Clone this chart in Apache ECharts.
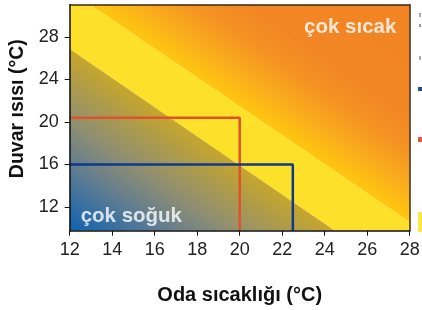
<!DOCTYPE html>
<html>
<head>
<meta charset="utf-8">
<script src="https://cdn.jsdelivr.net/npm/echarts@6/dist/echarts.min.js"></script>
<style>
html, body { margin: 0; padding: 0; background: #fff; }
#chart { width: 422px; height: 310px; }
</style>
</head>
<body>
<div id="chart"></div>
<script>
// 坐标轴范围
var xMin = 12, xMax = 28;
var yMin = 9.75, yMax = 31.05;
var yTicks = [12, 16, 20, 24, 28];

// 三个区域的顶点 (室温, 墙温)，第一个点是渐变的角点
var coldZone = [[12, 9.75], [12, 26.87], [24.48, 9.75]];
var comfortZone = [[12, 26.87], [12, 31.05], [12.97, 31.05], [28, 10.58], [28, 9.75], [24.48, 9.75]];
var hotZone = [[28, 31.05], [28, 10.58], [12.97, 31.05]];

// 两条参考线
var blueLine = [[12, 16], [22.5, 16], [22.5, 9.75]];
var redLine = [[12, 20.4], [20, 20.4], [20, 9.75]];

// 区域文字
var zoneLabels = [[25.2, 28.9, 'çok sıcak'], [14.9, 11.15, 'çok soğuk']];

var font = '"Liberation Sans", Arial, sans-serif';

// 多边形区域, stops 为空时用纯色
function zoneSeries(points, fill, stops) {
	return {
		type: 'custom',
		silent: true,
		clip: true,
		z: 1,
		data: [0],
		renderItem: function (params, api) {
			var pts = points.map(function (p) { return api.coord(p); });
			var f = fill;
			if (stops) {
				// 渐变: 从角点垂直到对边
				var c = pts[0], a = pts[1], b = pts[2];
				var dx = b[0] - a[0], dy = b[1] - a[1];
				var t = ((c[0] - a[0]) * dx + (c[1] - a[1]) * dy) / (dx * dx + dy * dy);
				var fx = a[0] + t * dx, fy = a[1] + t * dy;
				f = new echarts.graphic.LinearGradient(c[0], c[1], fx, fy, stops, true);
			}
			return { type: 'polygon', shape: { points: pts }, style: { fill: f } };
		}
	};
}

var coldStops = [
	{ offset: 0, color: '#0c62b2' },
	{ offset: 0.35, color: '#5f7c92' },
	{ offset: 0.6, color: '#8f8e72' },
	{ offset: 1, color: '#c6a62c' }
];
var hotStops = [
	{ offset: 0, color: '#f28424' },
	{ offset: 0.5, color: '#f28524' },
	{ offset: 0.68, color: '#f59323' },
	{ offset: 0.85, color: '#faae1c' },
	{ offset: 1, color: '#fec70f' }
];

var myChart = echarts.init(document.getElementById('chart'));
var option = {
	animation: false,
	grid: { left: 69.7, right: 12.3, top: 4.7, bottom: 79.3, outerBoundsMode: 'none' },
	xAxis: [{
		type: 'value', min: xMin, max: xMax, interval: 2, z: 10,
		name: 'Oda sıcaklığı (°C)', nameLocation: 'middle', nameGap: 55,
		nameTextStyle: { fontFamily: font, fontWeight: 'bold', fontSize: 20, color: '#111' },
		axisLine: { lineStyle: { color: '#111', width: 1.5 } },
		axisTick: { length: 5, lineStyle: { color: '#111' } },
		axisLabel: { fontFamily: font, fontSize: 18, color: '#222', margin: 10 },
		splitLine: { show: false }
	}, {
		type: 'value', min: xMin, max: xMax, position: 'top', z: 10,
		axisLine: { lineStyle: { color: '#3b2a12', width: 1.5 } },
		axisTick: { show: false }, axisLabel: { show: false }, splitLine: { show: false }
	}],
	yAxis: [{
		type: 'value', min: yMin, max: yMax, z: 10,
		name: 'Duvar ısısı (°C)', nameLocation: 'middle', nameGap: 40,
		nameTextStyle: { fontFamily: font, fontWeight: 'bold', fontSize: 19.5, color: '#111', padding: [0, 0, 0, 18] },
		axisLine: { lineStyle: { color: '#111', width: 1.5 } },
		axisTick: { length: 5, customValues: yTicks, lineStyle: { color: '#111' } },
		axisLabel: { fontFamily: font, fontSize: 18, color: '#222', margin: 11, customValues: yTicks },
		splitLine: { show: false }
	}, {
		type: 'value', min: yMin, max: yMax, position: 'right', z: 10,
		axisLine: { lineStyle: { color: '#3b2a12', width: 1.5 } },
		axisTick: { show: false }, axisLabel: { show: false }, splitLine: { show: false }
	}],
	series: [
		zoneSeries(comfortZone, '#fde02a'),
		zoneSeries(coldZone, null, coldStops),
		zoneSeries(hotZone, null, hotStops),
		{
			type: 'line', data: redLine, symbol: 'none', z: 5, silent: true,
			lineStyle: { color: '#e0522b', width: 2.5 }
		},
		{
			type: 'line', data: blueLine, symbol: 'none', z: 6, silent: true,
			lineStyle: { color: '#0f3a8c', width: 2.5 }
		},
		{
			type: 'scatter', data: zoneLabels, symbolSize: 0, z: 8, silent: true,
			label: {
				show: true, position: 'inside', color: '#fff',
				fontFamily: font, fontWeight: 'bold', fontSize: 20.5,
				formatter: function (p) { return p.data[2]; }
			}
		}
	],
	// 右侧被裁掉的图例碎片
	graphic: [
		{ type: 'rect', left: 418, top: 87, shape: { width: 4, height: 4 }, style: { fill: '#1c4b9b' } },
		{ type: 'rect', left: 418, top: 137, shape: { width: 4, height: 5 }, style: { fill: '#e0593b' } },
		{ type: 'rect', left: 418, top: 212, shape: { width: 4, height: 20 }, style: { fill: '#fde84a' } },
		{ type: 'rect', left: 419, top: 13, shape: { width: 2, height: 4 }, style: { fill: '#aaa' } },
		{ type: 'rect', left: 419, top: 24, shape: { width: 2, height: 3 }, style: { fill: '#999' } },
		{ type: 'rect', left: 419, top: 56, shape: { width: 2, height: 4 }, style: { fill: '#aaa' } }
	]
};
myChart.setOption(option);
</script>
</body>
</html>
